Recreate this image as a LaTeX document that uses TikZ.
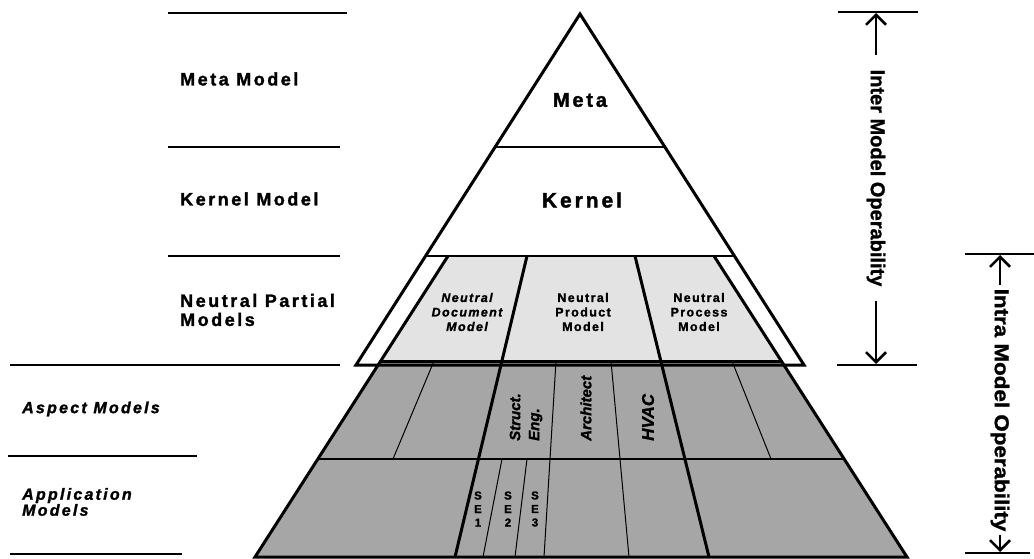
\documentclass[tikz,border=0pt]{standalone}
\usepackage{fontspec}
\setmainfont{Liberation Sans}[BoldFeatures={FakeBold=1.2}, BoldItalicFeatures={FakeBold=1.2}]
\newfontfamily\wideFont{Liberation Sans}[LetterSpace=14, BoldFeatures={FakeBold=1.6}, BoldItalicFeatures={FakeBold=1.6}]
\newfontfamily\partFont{Liberation Sans}[LetterSpace=11, BoldFeatures={FakeBold=1.3}, BoldItalicFeatures={FakeBold=1.3}]
\usetikzlibrary{arrows.meta}

\definecolor{neutralgray}{gray}{0.89}
\definecolor{aspectgray}{gray}{0.65}

\tikzset{
  sidelabel/.style={anchor=west, align=left, inner sep=0pt, font=\wideFont\bfseries\fontsize{18}{19}\selectfont},
  sideitlabel/.style={anchor=west, align=left, inner sep=0pt, font=\wideFont\bfseries\itshape\fontsize{16}{16}\selectfont},
  layerline/.style={line width=1.5pt},
  thickline/.style={line width=3pt, line join=miter},
  midline/.style={line width=2pt},
  thinline/.style={line width=1pt},
  toplabel/.style={font=\wideFont\bfseries\fontsize{#1}{#1}\selectfont},
  partlabel/.style={align=center, inner sep=0pt, font=\partFont\bfseries\fontsize{12.5}{14.5}\selectfont},
  aspectlabel/.style={rotate=90, anchor=west, align=left, inner sep=0pt, font=\bfseries\itshape\fontsize{#1}{19}\selectfont},
  selabel/.style={align=center, inner sep=0pt, font=\bfseries\fontsize{11.5}{13.5}\selectfont},
  oplabel/.style={rotate=-90, inner ysep=0pt, font=\bfseries\fontsize{20}{20}\selectfont},
  oparrow/.style={line width=2.5pt, -{Straight Barb[length=10pt,width=20pt]}}
}

\begin{document}
\begin{tikzpicture}[x=1pt,y=-1pt]
\useasboundingbox (0,0) rectangle (1034,559);

% left side layer labels
\draw[layerline] (168,13) -- (347,13);
\node[sidelabel] (metamodel) at (180,79) {Meta Model};
\draw[layerline] (168,147) -- (340,147);
\node[sidelabel] (kernelmodel) at (180,199) {Kernel Model};
\draw[layerline] (168,256) -- (340,256);
\node[sidelabel] (partialmodels) at (180,310) {Neutral Partial\\Models};
\draw[layerline] (10,365) -- (340,365);
\node[sideitlabel] (aspectmodels) at (22,409) {Aspect Models};
\draw[layerline] (8,456) -- (197,456);
\node[sideitlabel] (appmodels) at (22,502) {Application\\Models};
\draw[layerline] (10,554) -- (182,554);

% lower pyramid
\fill[aspectgray] (381,361) -- (781,361) -- (907,557) -- (255,557) -- cycle;
\fill[neutralgray] (448,256) -- (714,256) -- (781,361) -- (381,361) -- cycle;
\draw[thinline] (434,361) -- (393,459);
\draw[thinline] (732,361) -- (771,459);
\draw[thinline] (556,361) -- (544,557);
\draw[thinline] (611,361) -- (629,557);
\draw[thinline] (502,459) -- (483,557);
\draw[thinline] (527,459) -- (515,557);
\draw[thickline] (527,256) -- (455,557);
\draw[thickline] (635,256) -- (709,557);
\draw[midline] (318,459) -- (844,459);
\draw[thickline] (381,361) -- (781,361);
\draw[thickline] (448,256) -- (255,557) -- (907,557) -- (714,256);

% upper triangle
\draw[midline] (495,147) -- (665,147);
\draw[midline] (426,256) -- (734,256);
\draw[thickline] (580,14) -- (804,365) -- (356,365) -- cycle;

\node[toplabel=20] (meta) at (580,100) {Meta};
\node[toplabel=21] (kernel) at (582,200) {Kernel};
\node[partlabel] (npdoc) at (467,312) {\itshape Neutral\\\itshape Document\\\itshape Model};
\node[partlabel] (npprod) at (583,312) {Neutral\\Product\\Model};
\node[partlabel] (npproc) at (699,312) {Neutral\\Process\\Model};

\node[aspectlabel=15] (structeng) at (526,441) {Struct.\\Eng.};
\node[aspectlabel=15] (architect) at (586,441) {Architect};
\node[aspectlabel=17] (hvac) at (648,441) {HVAC};

\node[selabel] (se1) at (478,509) {S\\E\\1};
\node[selabel] (se2) at (508,509) {S\\E\\2};
\node[selabel] (se3) at (535,509) {S\\E\\3};

% operability ranges
\draw[layerline] (838,12) -- (918,12);
\draw[layerline] (837,365) -- (917,365);
\coordinate (intertop) at (876,13);
\coordinate (interbot) at (876,364);
\node[oplabel, inner xsep=14pt] (inter) at (876,178) {Inter Model Operability};
\draw[oparrow] (inter.west) -- (intertop);
\draw[oparrow] (inter.east) -- (interbot);

\draw[layerline] (965,254) -- (1034,254);
\draw[layerline] (965,553) -- (1030,553);
\coordinate (intratop) at (1000,255);
\coordinate (intrabot) at (1000,552);
\node[oplabel, xscale=1.12, inner xsep=3pt] (intra) at (1000,410) {Intra Model Operability};
\draw[oparrow] (intra.west) -- (intratop);
\draw[oparrow] (intra.east) -- (intrabot);
\end{tikzpicture}
\end{document}
